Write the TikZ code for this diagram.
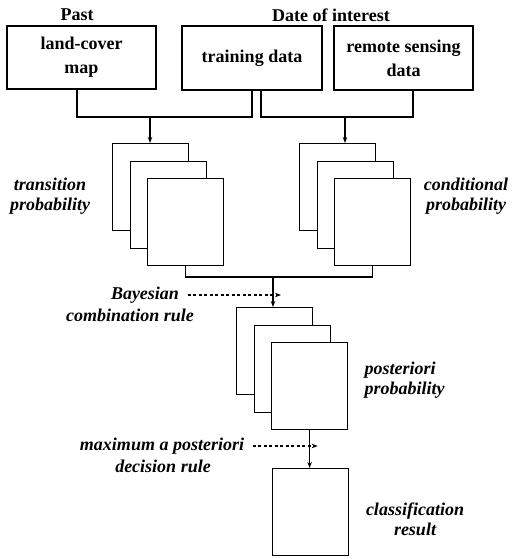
\documentclass[tikz,border=0pt]{standalone}
\usepackage{fontspec}
\setmainfont{Liberation Serif}
\usetikzlibrary{arrows.meta,calc}
\begin{document}
\begin{tikzpicture}[x=1pt,y=-1pt,
  line width=1.2pt,
  box/.style={draw,inner sep=0pt,font=\fontsize{18}{24}\selectfont\bfseries,align=center},
  sheet/.style={draw,fill=white,minimum width=76pt,minimum height=87pt,inner sep=0pt,anchor=north west},
  lbl/.style={font=\fontsize{18}{20}\selectfont\bfseries\itshape,inner sep=0pt},
  ttl/.style={font=\fontsize{18}{20}\selectfont\bfseries,inner sep=0pt},
  arr/.style={-{Stealth[length=6pt,width=4.5pt]}},
  darr/.style={dashed,dash pattern=on 3pt off 2.5pt,-{Stealth[length=6pt,width=4.5pt]}}]
\useasboundingbox (0,0) rectangle (515,559);
% inputs
\node[box,minimum width=149pt,minimum height=63pt] (B1) at (81.5,57.5) {land-cover\\map};
\node[box,minimum width=140pt,minimum height=64pt] (B2) at (252,58) {training data};
\node[box,minimum width=139pt,minimum height=64pt] (B3) at (403.5,58) {remote sensing\\data};
\node[ttl] (past) at (77,15) {Past};
\node[ttl] (doi) at (331,15) {Date of interest};
% junctions
\coordinate (j1) at (150,117);
\coordinate (j2) at (345,117);
\draw ([xshift=-4.5pt]B1.south) |- (j1) -| (B2.south);
\draw ([xshift=9pt]B2.south) |- (j2) -| ([xshift=9.5pt]B3.south);
% left stack
\node[sheet] (L1) at (112,143) {};
\node[sheet] (L2) at (129.5,160.5) {};
\node[sheet] (L3) at (147,178) {};
% right stack
\node[sheet] (R1) at (299,143) {};
\node[sheet] (R2) at (316.5,160.5) {};
\node[sheet] (R3) at (334,178) {};
\draw[arr] (j1) -- (j1 |- L1.north);
\draw[arr] (j2) -- (j2 |- R1.north);
% combination
\coordinate (j3) at (273,277);
\draw (L3.south) |- (j3) -| (R3.south);
% bottom stack
\node[sheet] (P1) at (236,307) {};
\node[sheet] (P2) at (253.5,324.5) {};
\node[sheet] (P3) at (271,342) {};
\draw[arr] (j3) -- (j3 |- P1.north);
% result
\node[sheet] (C) at (272,468) {};
\draw[arr] (P3.south) -- (P3.south |- C.north);
% labels
\node[lbl,align=center] (tp) at (50,196) {transition\\probability};
\node[lbl,align=center] (cp) at (466,196) {conditional\\probability};
\node[lbl] (bay1) at (145,295) {Bayesian};
\node[lbl] (bay2) at (130,315) {combination rule};
\node[lbl,align=left,anchor=west] (pp) at (364,380) {posteriori\\probability};
\node[lbl] (map1) at (162,446) {maximum a posteriori};
\node[lbl] (map2) at (163,466) {decision rule};
\node[lbl,align=center] (cr) at (415,519) {classification\\result};
\draw[darr] ([xshift=8pt]bay1.east) -- ([xshift=8pt]bay1.east -| j3);
\draw[darr] ([xshift=8pt]map1.east) -- ([xshift=8pt]map1.east -| P3.south);
\end{tikzpicture}
\end{document}
